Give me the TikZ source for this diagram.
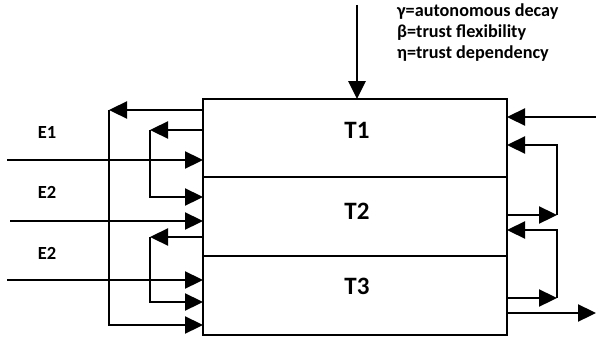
\documentclass[tikz,border=0pt]{standalone}
\usepackage{fontspec}
\setmainfont{Carlito}
\usetikzlibrary{arrows.meta}
\begin{document}
\begin{tikzpicture}[x=1pt,y=-1pt,
  box/.style={draw, line width=1.8pt, minimum width=304pt, outer sep=0pt, inner sep=0pt},
  arr/.style={line width=2.3pt, -{Triangle[length=18pt,width=17pt]}},
  lbl/.style={font=\bfseries\fontsize{18.5}{21}\selectfont, inner sep=0pt},
  tlbl/.style={font=\bfseries\fontsize{25}{28}\selectfont, inner sep=0pt}]
\useasboundingbox (0,0) rectangle (596,337);
\node[box, minimum height=78pt] (T1) at (355,138) {};
\node[box, minimum height=79pt] (T2) at (355,216.5) {};
\node[box, minimum height=79pt] (T3) at (355,295.5) {};
\node[tlbl] (t1) at (357,130) {T1};
\node[tlbl] (t2) at (357,211) {T2};
\node[tlbl] (t3) at (357,286) {T3};
\node[lbl] (le1) at (47,132) {E1};
\node[lbl] (le2) at (47,192) {E2};
\node[lbl] (le3) at (47,253) {E2};
\node[lbl, anchor=north west, align=left, font=\bfseries\fontsize{18.2}{21}\selectfont] (legend) at (397,4)
  {γ=autonomous decay\\β=trust flexibility\\η=trust dependency};
% coordinates
\coordinate (oL1) at (109,110);
\coordinate (oL2) at (109,325);
\coordinate (iA1) at (150,130);
\coordinate (iA2) at (150,197);
\coordinate (iB1) at (150,237);
\coordinate (iB2) at (150,302);
\coordinate (e1) at (7,160);
\coordinate (e2) at (10,221);
\coordinate (e3) at (7,280);
\coordinate (rin) at (596,117);
\coordinate (rA1) at (557,215);
\coordinate (rA2) at (557,145);
\coordinate (rB1) at (557,298);
\coordinate (rB2) at (557,230);
\coordinate (rout) at (596,313);
\coordinate (topin) at (357,5);
% left
\draw[arr] (T1.west |- oL1) -- (oL1);
\draw[arr] (oL1) -- (oL2) -- (T3.west |- oL2);
\draw[arr] (T1.west |- iA1) -- (iA1);
\draw[arr] (iA1) -- (iA2) -- (T2.west |- iA2);
\draw[arr] (T2.west |- iB1) -- (iB1);
\draw[arr] (iB1) -- (iB2) -- (T3.west |- iB2);
\draw[arr] (e1) -- (T1.west |- e1);
\draw[arr] (e2) -- (T2.west |- e2);
\draw[arr] (e3) -- (T3.west |- e3);
% right
\draw[arr] (rin) -- (T1.east |- rin);
\draw[arr] (T2.east |- rA1) -- (rA1);
\draw[arr] (rA1) -- (rA2) -- (T1.east |- rA2);
\draw[arr] (T3.east |- rB1) -- (rB1);
\draw[arr] (rB1) -- (rB2) -- (T2.east |- rB2);
\draw[arr] (T3.east |- rout) -- (rout);
% top
\draw[arr, line width=2.8pt] (topin) -- (T1.north -| topin);
\end{tikzpicture}
\end{document}
